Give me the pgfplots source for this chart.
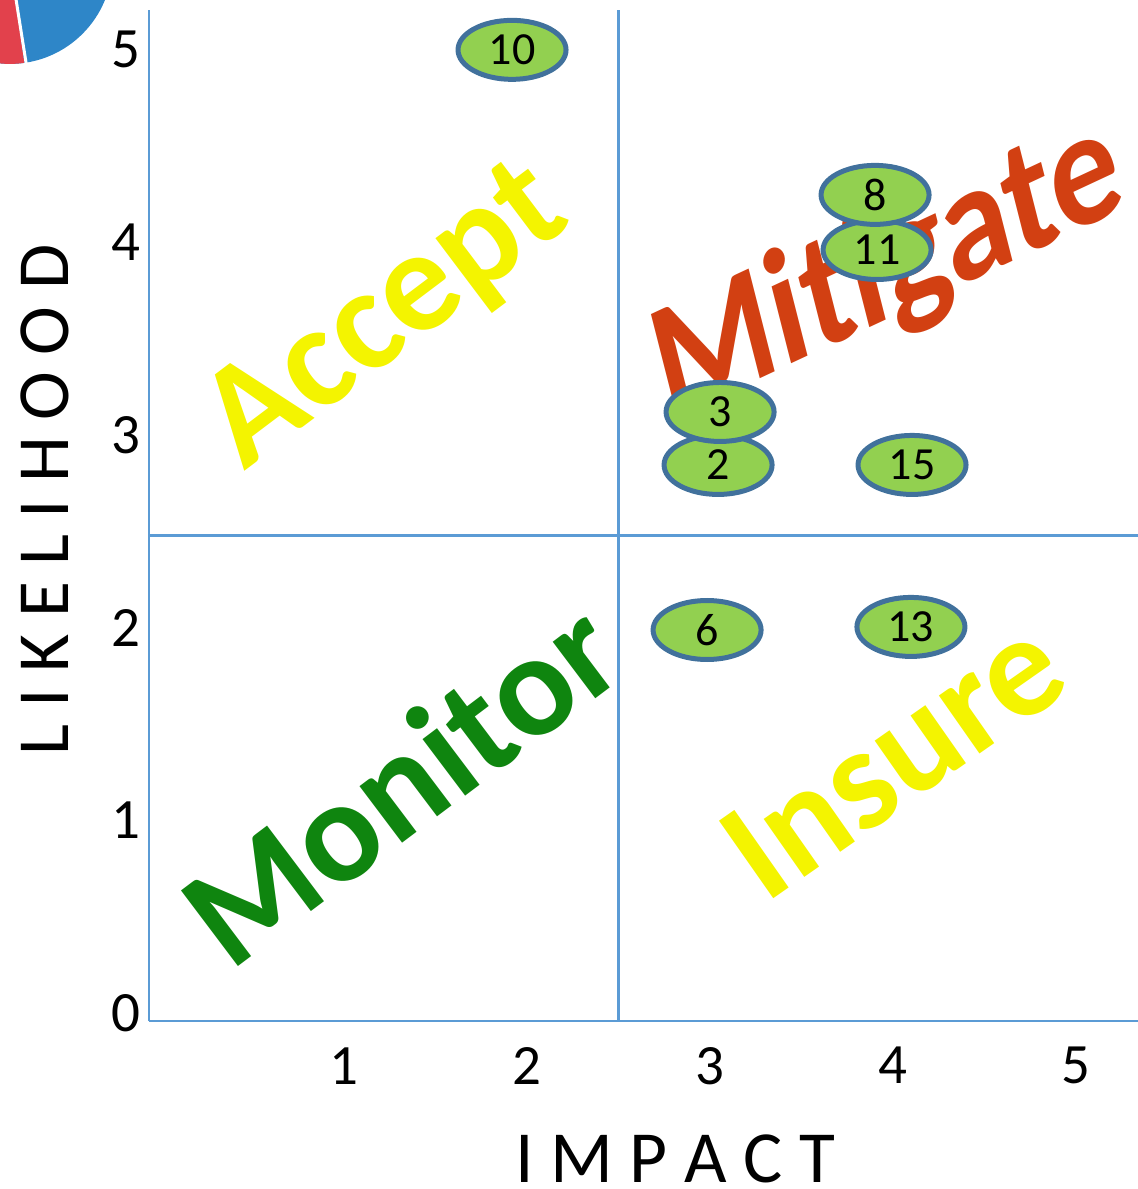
\documentclass[border=0pt]{standalone}
\usepackage{fontspec}
\setmainfont{Carlito}
\usepackage{pgfplots}
\pgfplotsset{compat=1.18}
\usetikzlibrary{shapes.geometric}
\definecolor{axisblue}{HTML}{5B9BD5}
\definecolor{bubblefill}{HTML}{92D050}
\definecolor{bubbleedge}{HTML}{41719C}
\definecolor{wyellow}{HTML}{F4F400}
\definecolor{wred}{HTML}{D24012}
\definecolor{wgreen}{HTML}{0F850F}
\definecolor{pieblue}{HTML}{2E86C8}
\definecolor{piered}{HTML}{E2414C}
\begin{document}
\begin{tikzpicture}
\path[use as bounding box] (0pt,0pt) rectangle (569pt,594.5pt);
\begin{scope}
\clip (0pt,0pt) rectangle (569pt,594.5pt);
\fill[pieblue] (5pt,613.8pt) circle[radius=51.25pt];
\fill[piered] (5pt,613.8pt) -- ++(190:51.25pt) arc[start angle=190,end angle=278,radius=51.25pt] -- cycle;
\draw[white, line width=1.5pt] (5pt,613.8pt) -- ++(279:52pt);
\end{scope}
\begin{axis}[
  at={(74.5pt,84pt)}, anchor=south west,
  scale only axis, width=494.5pt, height=505.5pt,
  xmin=-0.066, xmax=5.339, ymin=-0.021, ymax=5.228,
  clip=false,
  axis lines=left,
  axis line style={-, draw=axisblue, line width=1.2pt},
  xtick={1,2,3,4,5}, ytick={0,1,2,3,4,5},
  major tick length=0pt, tick style={draw=none},
  /pgf/number format/assume math mode=true,
  tick label style={font=\fontsize{28.5}{30}\selectfont, text=black},
  xticklabel style={inner sep=0pt, anchor=north, yshift=-13pt},
  yticklabel style={inner sep=0pt, anchor=east, xshift=-4pt, yshift=2pt},
  xlabel={I M P A C T}, ylabel={L I K E L I H O O D},
  label style={font=\fontsize{36.75}{40}\selectfont, inner sep=0pt},
  xlabel style={at={(axis description cs:0.532,-0.136)}, anchor=center},
  ylabel style={at={(axis description cs:-0.1052,0.5153)}, anchor=center},
]
\node[font=\fontsize{73}{80}\selectfont\bfseries, text=wyellow, rotate=37, inner sep=0pt] at (axis cs:1.240,3.624) {Accept};
\node[font=\fontsize{73}{80}\selectfont\bfseries, text=wgreen, rotate=37, inner sep=0pt] at (axis cs:1.306,1.220) {Monitor};
\node[font=\fontsize{73}{80}\selectfont\bfseries, text=wyellow, rotate=35, inner sep=0pt] at (axis cs:4.000,1.345) {Insure};
\node[font=\fontsize{73}{80}\selectfont\bfseries, text=wred, rotate=25, xslant=0.19, yscale=1.1, inner sep=0pt] at (axis cs:3.973,3.868) {Mitigate};
\addplot[axisblue, line width=1.2pt] coordinates {(2.5,-0.021) (2.5,5.228)};
\addplot[axisblue, line width=1.2pt] coordinates {(-0.066,2.5) (5.339,2.5)};
\addplot[draw=none, mark=none, point meta=explicit symbolic, nodes near coords,
  nodes near coords style={anchor=center, ellipse, draw=bubbleedge, line width=2.5pt, fill=bubblefill,
    minimum width=54pt, minimum height=29.5pt, inner sep=0pt,
    font=\fontsize{23}{23}\selectfont, text=black}]
  table[meta=label] {
x y label
1.918 5.021 10
3.913 3.982 11
3.902 4.268 8
3.044 2.866 2
3.055 3.141 3
4.104 2.866 15
2.984 2.009 6
4.098 2.025 13
};
\end{axis}
\end{tikzpicture}
\end{document}
